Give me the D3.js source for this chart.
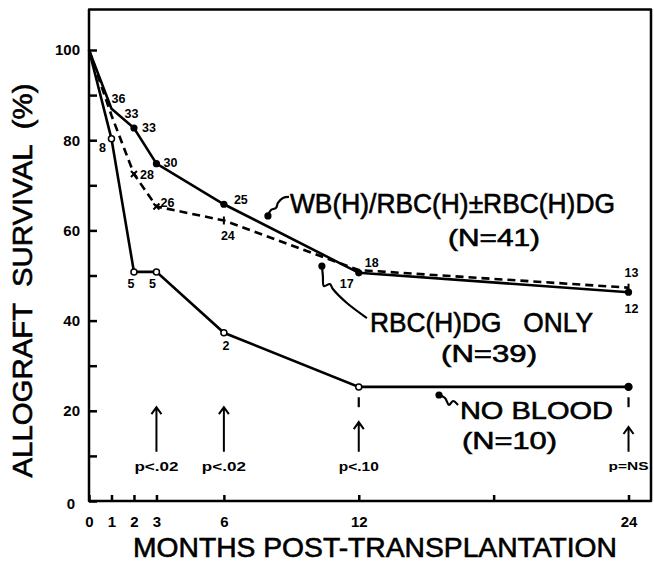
<!DOCTYPE html>
<html>
<head>
<meta charset="utf-8">
<script src="https://cdn.jsdelivr.net/npm/d3@7"></script>
<style>
  body { margin: 0; background: #fff; }
  svg { display: block; }
  text { font-family: "Liberation Sans", Arial, sans-serif; fill: #000; }
</style>
</head>
<body>
<svg width="654" height="563"></svg>
<script>
// months where the curves have a point
const months = [0, 1, 2, 3, 6, 12, 24];

// allograft survival (%) per group
const wbValues = [100, 87, 82.7, 74.8, 65.8, 50.6, 46.3];        // WB(H)/RBC(H)±RBC(H)DG  N=41
const dgValues = [100, 85.5, 72.5, 65.3, 62.2, 51.2, 47.3];       // RBC(H)DG only  N=39
const noBloodValues = [100, 80.3, 50.8, 50.8, 37.3, 25.3, 25.3];  // no blood  N=10

// patients at risk written next to the points
const wbCounts = [null, '36', '33', '30', '25', '18', '12'];
const dgCounts = [null, '33', '28', '26', '24', '17', '13'];
const noBloodCounts = [null, '8', '5', '5', '2', null, null];

// significance arrows
const pMonths = [3, 6, 12, 24];
const pLabels = ['p<.02', 'p<.02', 'p<.10', 'p=NS'];

// axis ticks
const yTicks = [0, 20, 40, 60, 80, 100];
const yMinorTicks = [10, 30, 50, 70, 90];
const xTicks = [0, 1, 2, 3, 6, 12, 18, 24];


//---- layout -------
const svg = d3.select('svg');

const x = d3.scaleLinear().domain([0, 25]).range([89, 651]);
const y = d3.scaleLinear().domain([0, 100]).range([501, 50]);

// offsets (px) of the count labels from their point
const wbOffsets = [null, [7, -10], [15, 0], [14, -1], [17, -5], [13, -10], [3, 16]];
const dgOffsets = [null, [20, -2], [13, 1], [11, -4], [4, 15], [-12, 14], [3, -15]];
const noBloodOffsets = [null, [-9, 9], [-3, 12], [-4, 12], [2, 13], null, null];

// frame round the plot
svg.append('path')
  .attr('d', `M${x(0)},${y(0)}V${y(109)}H${x(25)}V${y(0)}Z`)
  .attr('fill', 'none')
  .attr('stroke', '#000')
  .attr('stroke-width', 2.5)
  .attr('stroke-linejoin', 'round');

// y axis, ticks point inwards
const yAxis = svg.append('g')
  .attr('transform', `translate(${x(0)},0)`)
  .call(d3.axisLeft(y).tickValues(yTicks).tickSize(-8).tickPadding(9));

svg.append('g')
  .attr('transform', `translate(${x(0)},0)`)
  .call(d3.axisLeft(y).tickValues(yMinorTicks).tickSize(-8).tickFormat(''));

const xAxis = svg.append('g')
  .attr('transform', `translate(0,${y(0)})`)
  .call(d3.axisBottom(x).tickValues(xTicks).tickSize(-6).tickPadding(15)
    .tickFormat(d => d === 18 ? '' : d));

svg.selectAll('.domain').remove();
svg.selectAll('.tick line').attr('stroke', '#000').attr('stroke-width', 2.5);
svg.selectAll('.tick text')
  .attr('fill', '#000')
  .style('font-family', '"Liberation Sans", Arial, sans-serif')
  .style('font-size', '15px')
  .style('font-weight', 'bold');

// the y "0" sits a bit lower and further left
yAxis.selectAll('.tick').filter(d => d === 0).select('text').attr('x', -14).attr('dy', '0.5em');

// axis titles
svg.append('text')
  .attr('transform', `translate(32,${(y(0) + y(100)) / 2 + 5}) rotate(-90)`)
  .attr('text-anchor', 'middle')
  .attr('textLength', 394)
  .attr('lengthAdjust', 'spacingAndGlyphs')
  .attr('stroke', '#000')
  .attr('stroke-width', 0.6)
  .style('font-size', '27px')
  .style('white-space', 'pre')
  .text('ALLOGRAFT  SURVIVAL  (%)');

svg.append('text')
  .attr('x', 133)
  .attr('y', 557)
  .attr('textLength', 484)
  .attr('lengthAdjust', 'spacingAndGlyphs')
  .attr('stroke', '#000')
  .attr('stroke-width', 0.6)
  .style('font-size', '27px')
  .text('MONTHS POST-TRANSPLANTATION');


//---- curves -------
const line = d3.line().x(d => x(d[0])).y(d => y(d[1]));

const series = [
  { values: wbValues, counts: wbCounts, offsets: wbOffsets, dash: null },
  { values: dgValues, counts: dgCounts, offsets: dgOffsets, dash: '8,5' },
  { values: noBloodValues, counts: noBloodCounts, offsets: noBloodOffsets, dash: null }
];

series.forEach(s => {
  const pts = months.map((m, i) => [m, s.values[i]]);

  svg.append('path')
    .datum(pts)
    .attr('d', line)
    .attr('fill', 'none')
    .attr('stroke', '#000')
    .attr('stroke-width', 2.6)
    .attr('stroke-dasharray', s.dash);

  svg.append('g').selectAll('text')
    .data(pts.filter((p, i) => s.counts[i]))
    .enter().append('text')
    .attr('x', d => x(d[0]) + s.offsets[months.indexOf(d[0])][0])
    .attr('y', d => y(d[1]) + s.offsets[months.indexOf(d[0])][1])
    .attr('dy', '0.35em')
    .attr('text-anchor', 'middle')
    .style('font-size', '12.5px')
    .style('font-weight', 'bold')
    .text(d => s.counts[months.indexOf(d[0])]);
});

// WB: filled dots
svg.append('g').selectAll('circle')
  .data(months.map((m, i) => [m, wbValues[i]]).filter(d => d[0] >= 2))
  .enter().append('circle')
  .attr('cx', d => x(d[0]))
  .attr('cy', d => y(d[1]))
  .attr('r', 3.6);

// RBC(H)DG: small crosses and ticks
const dgPts = months.map((m, i) => [m, dgValues[i]]);
svg.append('g').selectAll('path')
  .data(dgPts.filter(d => d[0] === 2 || d[0] === 3))
  .enter().append('path')
  .attr('d', d => `M${x(d[0]) - 3},${y(d[1]) - 3}l6,6m0,-6l-6,6`)
  .attr('stroke', '#000')
  .attr('stroke-width', 2);

svg.append('g').selectAll('path')
  .data(dgPts.filter(d => d[0] === 6 || d[0] === 24))
  .enter().append('path')
  .attr('d', d => `M${x(d[0])},${y(d[1]) - 4}v8`)
  .attr('stroke', '#000')
  .attr('stroke-width', 2);

// no blood: open circles, last one filled
svg.append('g').selectAll('circle')
  .data(months.map((m, i) => [m, noBloodValues[i]]).filter(d => d[0] >= 1))
  .enter().append('circle')
  .attr('cx', d => x(d[0]))
  .attr('cy', d => y(d[1]))
  .attr('r', d => d[0] === 24 ? 3.4 : 3)
  .attr('fill', d => d[0] === 24 ? '#000' : '#fff')
  .attr('stroke', '#000')
  .attr('stroke-width', 1.5);


//---- significance arrows -------
const arrowTop = [20.8, 20.8, 17.5, 16.4];
const arrowBottom = 10.9;
const pWidths = [44, 44, 40, 40];

const arrows = svg.append('g').selectAll('g')
  .data(pMonths)
  .enter().append('g');

arrows.append('path')
  .attr('d', (d, i) => `M${x(d)},${y(arrowBottom)}V${y(arrowTop[i])}m-5,7l5,-7l5,7`)
  .attr('fill', 'none')
  .attr('stroke', '#000')
  .attr('stroke-width', 2);

// short dashes from the no-blood points down to the arrows
arrows.filter(d => d >= 12).append('path')
  .attr('d', d => `M${x(d)},${y(23)}V${y(20.8)}`)
  .attr('stroke', '#000')
  .attr('stroke-width', 2.2);

arrows.append('text')
  .attr('x', d => x(d))
  .attr('y', y(7.7))
  .attr('dy', '0.35em')
  .attr('text-anchor', 'middle')
  .attr('textLength', (d, i) => pWidths[i])
  .attr('lengthAdjust', 'spacingAndGlyphs')
  .style('font-size', (d, i) => i === 3 ? '11px' : '13px')
  .style('font-weight', 'bold')
  .text((d, i) => pLabels[i]);


//---- group labels with curly pointers -------
const groupLabels = [
  { m: 8.94, v: 63.9, len: 325, size: 27, text: 'WB(H)/RBC(H)±RBC(H)DG' },
  { m: 15.97, v: 56.6, len: 92, size: 24, text: '(N=41)' },
  { m: 12.5, v: 37.5, len: 223, size: 27, text: 'RBC(H)DG   ONLY' },
  { m: 15.66, v: 30.9, len: 96, size: 24, text: '(N=39)' },
  { m: 16.5, v: 18.2, len: 153, size: 24, text: 'NO BLOOD' },
  { m: 16.59, v: 11.6, len: 95, size: 24, text: '(N=10)' }
];

svg.append('g').selectAll('text')
  .data(groupLabels)
  .enter().append('text')
  .attr('x', d => x(d.m))
  .attr('y', d => y(d.v))
  .attr('textLength', d => d.len)
  .attr('lengthAdjust', 'spacingAndGlyphs')
  .attr('stroke', '#000')
  .attr('stroke-width', 0.6)
  .style('font-size', d => d.size + 'px')
  .style('white-space', 'pre')
  .text(d => d.text);

const pointers = [
  { m: 7.96, v: 63.2, pts: [[0, 0], [3, -6], [8, -8], [10, -13], [15, -18], [21, -19]] },
  { m: 10.36, v: 52.1, pts: [[0, 0], [1, 10], [2, 20], [8, 18], [11, 23], [25, 37], [45, 52]] },
  { m: 15.57, v: 23.5, pts: [[0, 0], [6, 3], [10, 10], [14, 6], [19, 10]] }
];

const squiggle = d3.line().curve(d3.curveCatmullRom);

pointers.forEach(p => {
  const g = svg.append('g').attr('transform', `translate(${x(p.m)},${y(p.v)})`);
  g.append('path')
    .attr('d', squiggle(p.pts))
    .attr('fill', 'none')
    .attr('stroke', '#000')
    .attr('stroke-width', 2.2);
  g.append('circle').attr('r', 3.6);
});
</script>
</body>
</html>
